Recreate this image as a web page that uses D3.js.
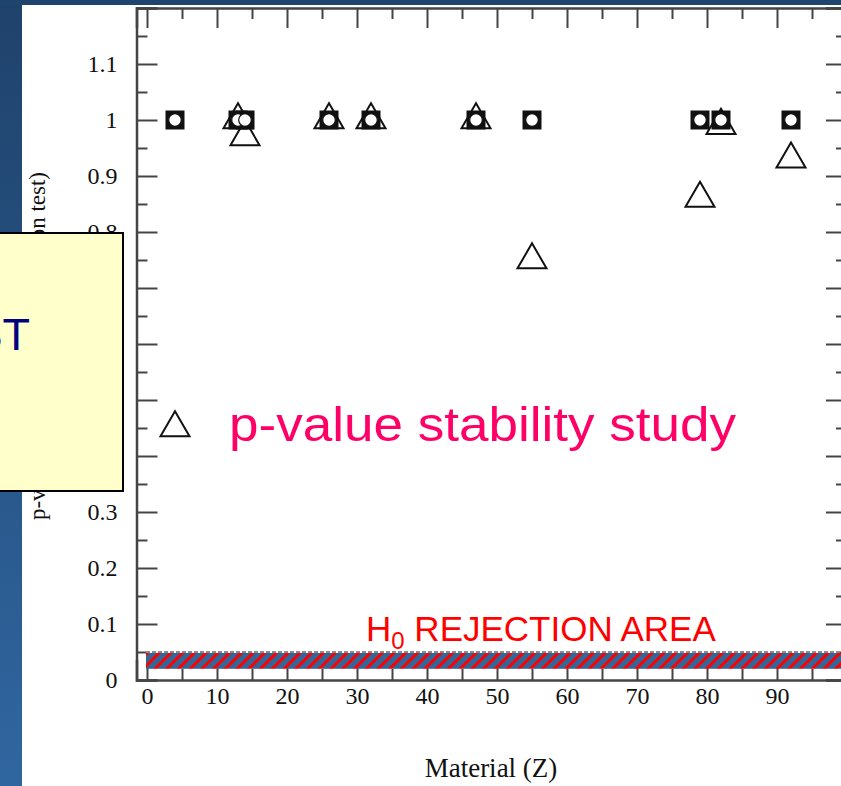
<!DOCTYPE html>
<html><head><meta charset="utf-8">
<script src="https://cdn.jsdelivr.net/npm/d3@7"></script>
<style>html,body{margin:0;padding:0;background:#fff;overflow:hidden}</style>
</head><body>
<script>
// ---- data ----
const materialZ   = [4, 13, 14, 26, 32, 47, 55, 79, 82, 92];
const squareP     = [1, 1, 1, 1, 1, 1, 1, 1, 1, 1];
const circleP     = [1, 1, 1, 1, 1, 1, 1, 1, 1, 1];
const triangleP   = [0.45, 1.0, 0.97, 1.0, 1.0, 1.0, 0.75, 0.86, 0.99, 0.93];
const yMajorTicks = [0, 0.1, 0.2, 0.3, 0.4, 0.5, 0.6, 0.7, 0.8, 0.9, 1, 1.1, 1.2];
const yTickLabels = ["0", "0.1", "0.2", "0.3", "0.4", "0.5", "0.6", "0.7", "0.8", "0.9", "1", "1.1", ""];
const yMinorTicks = [0.05, 0.15, 0.25, 0.35, 0.45, 0.55, 0.65, 0.75, 0.85, 0.95, 1.05, 1.15];
const xMajorTicks = [0, 10, 20, 30, 40, 50, 60, 70, 80, 90];
const xMinorTicks = [5, 15, 25, 35, 45, 55, 65, 75, 85, 95];
const rejectionThreshold = 0.05;
const rejectionBand = [0.02, 0.05];
const bandZ = [0, 100];

const W = 841, H = 786;
const svg = d3.select("body").append("svg").attr("width", W).attr("height", H);
const defs = svg.append("defs");
const grad = defs.append("linearGradient").attr("id","bg").attr("x1",0).attr("y1",0).attr("x2",0).attr("y2",1);
grad.append("stop").attr("offset","0%").attr("stop-color","#1f426b");
grad.append("stop").attr("offset","100%").attr("stop-color","#3066a0");
const pat = defs.append("pattern").attr("id","hatch").attr("patternUnits","userSpaceOnUse")
  .attr("width",8.3).attr("height",8.3).attr("patternTransform","rotate(45)");
pat.append("rect").attr("width",8.3).attr("height",8.3).attr("fill","#336699");
pat.append("rect").attr("width",3).attr("height",8.3).attr("fill","#ff0000");

// background slide
svg.append("rect").attr("width",W).attr("height",H).attr("fill","url(#bg)");
svg.append("rect").attr("x",0).attr("y",0).attr("width",W).attr("height",5).attr("fill","#1f446e");
svg.append("rect").attr("x",22).attr("y",5).attr("width",W-22).attr("height",H-5).attr("fill","#ffffff");

const x = d3.scaleLinear().domain([-1.5, 100]).range([136.5, 847]);
const y = d3.scaleLinear().domain([0, 1.2]).range([680, 8]);

const serif = "'Liberation Serif','DejaVu Serif',serif";
const axColor = "#444";

function styleAxis(g, w) {
  g.selectAll(".domain").attr("stroke", axColor).attr("stroke-width", 2.5);
  g.selectAll(".tick line").attr("stroke", axColor).attr("stroke-width", w);
  g.selectAll("text").attr("font-family", serif).attr("font-size", 24).attr("fill", "#111");
}

// left axis
const gl = svg.append("g").attr("transform", `translate(${x.range()[0]},0)`)
  .call(d3.axisLeft(y).tickValues(yMajorTicks).tickSize(-21).tickPadding(19)
    .tickFormat((d,i) => yTickLabels[i]));
styleAxis(gl, 2);
svg.append("g").attr("transform", `translate(${x.range()[0]},0)`)
  .call(d3.axisLeft(y).tickValues(yMinorTicks).tickSize(-11).tickFormat(""))
  .call(g => { g.select(".domain").remove(); styleAxis(g, 2); });
// right axis
svg.append("g").attr("transform", `translate(${x.range()[1]},0)`)
  .call(d3.axisRight(y).tickValues(yMajorTicks).tickSize(-21).tickFormat(""))
  .call(g => styleAxis(g, 2));
svg.append("g").attr("transform", `translate(${x.range()[1]},0)`)
  .call(d3.axisRight(y).tickValues(yMinorTicks).tickSize(-11).tickFormat(""))
  .call(g => { g.select(".domain").remove(); styleAxis(g, 2); });
// top axis
svg.append("g").attr("transform", `translate(0,${y.range()[1]})`)
  .call(d3.axisTop(x).tickValues(xMajorTicks).tickSize(-20).tickFormat(""))
  .call(g => styleAxis(g, 2));
svg.append("g").attr("transform", `translate(0,${y.range()[1]})`)
  .call(d3.axisTop(x).tickValues(xMinorTicks).tickSize(-11).tickFormat(""))
  .call(g => { g.select(".domain").remove(); styleAxis(g, 2); });
// bottom axis
const gb = svg.append("g").attr("transform", `translate(0,${y.range()[0]})`)
  .call(d3.axisBottom(x).tickValues(xMajorTicks).tickSize(-20).tickPadding(7).tickFormat(d3.format("d")));
styleAxis(gb, 2);
svg.append("g").attr("transform", `translate(0,${y.range()[0]})`)
  .call(d3.axisBottom(x).tickValues(xMinorTicks).tickSize(-11).tickFormat(""))
  .call(g => { g.select(".domain").remove(); styleAxis(g, 2); });

// axis titles
svg.append("text").attr("x", 491).attr("y", 777).attr("text-anchor","middle")
  .attr("font-family", serif).attr("font-size", 27).attr("fill","#111").text("Material (Z)");
svg.append("text").attr("transform", "translate(45,172) rotate(-90)").attr("text-anchor","end")
  .attr("font-family", serif).attr("font-size", 23).attr("fill","#111")
  .text("p-value (two-sample comparison test)");

// rejection band
svg.append("rect").attr("x", x(bandZ[0]) - 1).attr("y", y(rejectionBand[1]) + 1)
  .attr("width", x(bandZ[1]) - x(bandZ[0]) + 1).attr("height", y(rejectionBand[0]) - y(rejectionBand[1]) - 1)
  .attr("fill", "url(#hatch)");
svg.append("line").attr("x1", x(bandZ[0]) - 1).attr("x2", x(bandZ[1]))
  .attr("y1", y(rejectionThreshold)).attr("y2", y(rejectionThreshold))
  .attr("stroke", "#8a8a8a").attr("stroke-width", 2).attr("stroke-dasharray", "4,2");

// markers
const tri = (cx, cy) => {
  const s = 29, h = s * Math.sqrt(3) / 2;
  return `M${cx},${cy - 2*h/3} L${cx + s/2},${cy + h/3} L${cx - s/2},${cy + h/3} Z`;
};
const pts = materialZ.map((z, i) => ({z, s: squareP[i], c: circleP[i], t: triangleP[i]}));
svg.append("g").selectAll("path").data(pts).join("path")
  .attr("d", d => tri(x(d.z), y(d.t)))
  .attr("fill", "none").attr("stroke", "#111").attr("stroke-width", 2);
svg.append("g").selectAll("rect").data(pts).join("rect")
  .attr("x", d => x(d.z) - 8.5).attr("y", d => y(d.s) - 8.5).attr("width", 17).attr("height", 17)
  .attr("fill", "#111").attr("stroke", "#111").attr("stroke-width", 2);
svg.append("g").selectAll("circle").data(pts).join("circle")
  .attr("cx", d => x(d.z)).attr("cy", d => y(d.c)).attr("r", 6.3)
  .attr("fill", "#fff").attr("stroke", "#111").attr("stroke-width", 1.2);

// annotations
const sans = "'Liberation Sans',Arial,sans-serif";
svg.append("text").attr("x", 229).attr("y", 441).attr("font-family", sans).attr("font-size", 48)
  .attr("fill", "#ff0066").attr("textLength", 507).attr("lengthAdjust","spacingAndGlyphs")
  .text("p-value stability study");
const h0 = svg.append("text").attr("x", 366).attr("y", 641).attr("font-family", sans)
  .attr("font-size", 35).attr("fill", "#ff0000");
h0.append("tspan").text("H");
h0.append("tspan").attr("font-size", 24).attr("dy", 8).text("0");
h0.append("tspan").attr("dy", -8).text(" REJECTION AREA");

// slide box
svg.append("rect").attr("x", -2).attr("y", 233).attr("width", 125).attr("height", 258)
  .attr("fill", "#ffffcc").attr("stroke", "#000").attr("stroke-width", 2);
svg.append("text").attr("x", 30).attr("y", 350).attr("text-anchor","end").attr("font-family", sans)
  .attr("font-size", 45).attr("fill", "#000080").text("ST");
</script>
</body></html>
